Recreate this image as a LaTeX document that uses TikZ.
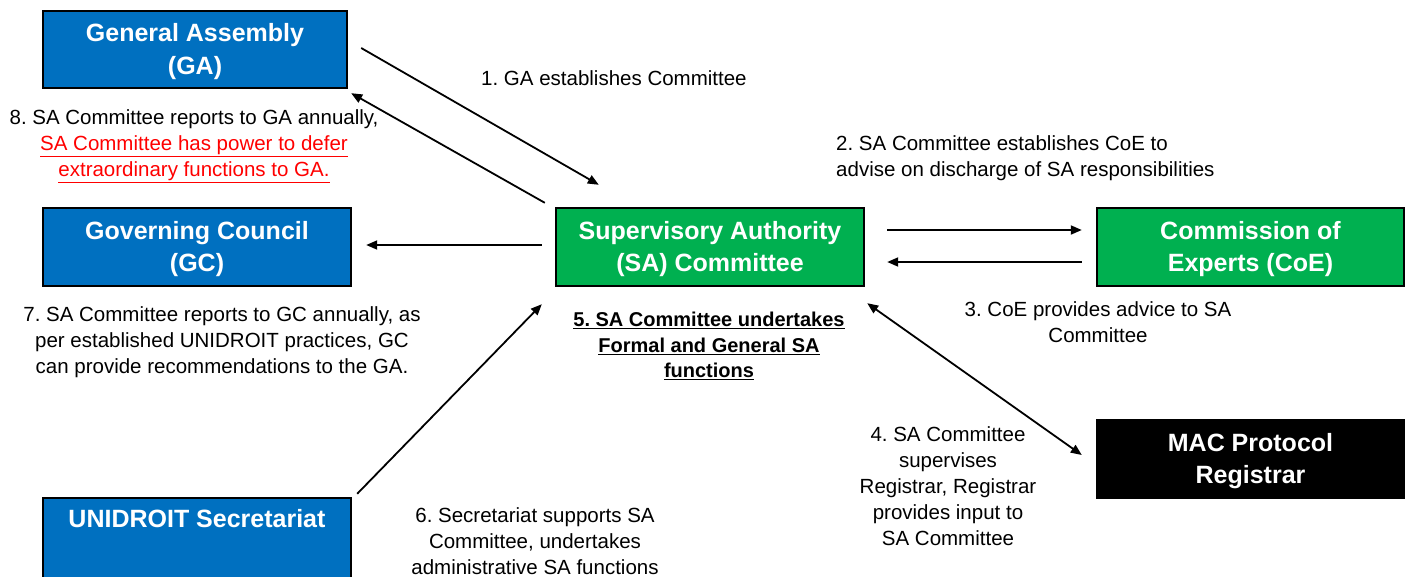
\documentclass[tikz,border=0pt]{standalone}
\usepackage{fontspec}
\setmainfont{Liberation Sans}
\usetikzlibrary{arrows.meta,calc}
\definecolor{boxblue}{HTML}{0070C0}
\definecolor{boxgreen}{HTML}{00B050}
\definecolor{notered}{HTML}{FF0000}
\frenchspacing
\newcommand{\boxstrut}{\rule{0pt}{22pt}}
\begin{document}
\begin{tikzpicture}[x=1pt,y=-1pt,
  box/.style={draw=black,line width=2.4pt,rectangle,inner sep=0pt,align=center,
    text=white,font=\fontsize{25}{32.5}\selectfont\bfseries},
  bluebox/.style={box,fill=boxblue},
  greenbox/.style={box,fill=boxgreen},
  blackbox/.style={box,fill=black},
  lbl/.style={inner sep=0pt,align=center,font=\fontsize{20.5}{26}\selectfont},
  conn/.style={line width=1.8pt,-{Triangle[length=11pt,width=9pt]}},
  dconn/.style={line width=1.8pt,{Triangle[length=11pt,width=9pt]}-{Triangle[length=11pt,width=9pt]}}
]
\useasboundingbox (0,0) rectangle (1410,576);
\begin{scope}
\clip (0,0) rectangle (1410,576);
\node[bluebox,minimum width=304pt,minimum height=77pt] (GA) at (195,49.5) {\boxstrut General Assembly\\(GA)};
\node[bluebox,minimum width=308pt,minimum height=78pt] (GC) at (197,247) {\boxstrut Governing Council\\(GC)};
\node[bluebox,minimum width=308pt,minimum height=80pt] (UNI) at (197,538) {\boxstrut UNIDROIT Secretariat\\\strut};
\node[greenbox,minimum width=308pt,minimum height=78pt] (SA) at (710,247) {\boxstrut Supervisory Authority\\(SA) Committee};
\node[greenbox,minimum width=307pt,minimum height=78pt] (CoE) at (1250.5,247) {\boxstrut Commission of\\Experts (CoE)};
\node[blackbox,minimum width=307pt,minimum height=78pt] (MAC) at (1250.5,459) {\boxstrut MAC Protocol\\Registrar};
\end{scope}

% connectors
\draw[conn] ($(GA.east)+(13,-1.5)$) -- ($(SA.north west)+(44,-22)$);
\draw[conn] ($(SA.north west)+(-10,-4)$) -- ($(GA.south east)+(3,4)$);
\draw[conn] ($(SA.west)+(-13,-2)$) -- ($(GC.east)+(14,-2)$);
\draw[conn] ($(SA.east)+(22,-17)$) -- ($(CoE.west)+(-14,-17)$);
\draw[conn] ($(CoE.west)+(-14,15)$) -- ($(SA.east)+(22,15)$);
\draw[dconn] ($(SA.south east)+(2,16)$) -- ($(MAC.west)+(-14,-4)$);
\draw[conn] ($(UNI.north east)+(5,-3)$) -- ($(SA.south west)+(-13,17)$);

% labels
\node[lbl,anchor=west] (L1) at (481,78) {1. GA establishes Committee};
\node[lbl] (L8) at (194,146) {8. SA Committee reports to GA annually,\\
  \textcolor{notered}{\underline{SA Committee has power to defer}}\\
  \textcolor{notered}{\underline{extraordinary functions to GA.}}};
\node[lbl,anchor=west,align=left] (L2) at (836,158) {2. SA Committee establishes CoE to\\advise on discharge of SA responsibilities};
\node[lbl] (L3) at (1098,322) {3. CoE provides advice to SA\\Committee};
\node[lbl,font=\fontsize{20}{25.5}\selectfont\bfseries] (L5) at (709,346) {\underline{5. SA Committee undertakes}\\\underline{Formal and General SA}\\\underline{functions}};
\node[lbl] (L7) at (222,342) {7. SA Committee reports to GC annually, as\\per established UNIDROIT practices, GC\\can provide recommendations to the GA.};
\node[lbl] (L4) at (948,486) {4. SA Committee\\supervises\\Registrar, Registrar\\provides input to\\SA Committee};
\node[lbl] (L6) at (535,541) {6. Secretariat supports SA\\Committee, undertakes\\administrative SA functions};
\end{tikzpicture}
\end{document}
